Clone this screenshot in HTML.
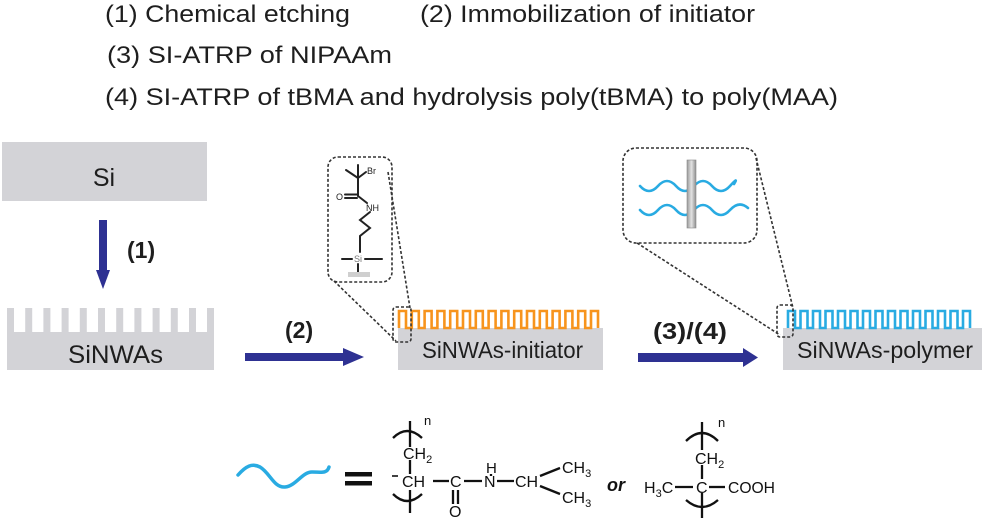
<!DOCTYPE html>
<html>
<head>
<meta charset="utf-8">
<style>
  html,body{margin:0;padding:0;background:#fff;}
  svg{display:block;}
  text{font-family:"Liberation Sans",Arial,sans-serif;}
</style>
</head>
<body>
<svg width="982" height="521" viewBox="0 0 982 521" xmlns="http://www.w3.org/2000/svg">
  <defs>
    <linearGradient id="rod" x1="0" x2="1" y1="0" y2="0">
      <stop offset="0" stop-color="#9a9a9a"/>
      <stop offset="0.5" stop-color="#e2e2e2"/>
      <stop offset="1" stop-color="#8e8e8e"/>
    </linearGradient>
  </defs>

  <!-- Top legend text -->
  <g fill="#1e1e1e" font-size="24">
    <text x="105" y="22" textLength="245" lengthAdjust="spacingAndGlyphs">(1) Chemical etching</text>
    <text x="420" y="22" textLength="335" lengthAdjust="spacingAndGlyphs">(2) Immobilization of initiator</text>
    <text x="107" y="63" textLength="285" lengthAdjust="spacingAndGlyphs">(3) SI-ATRP of NIPAAm</text>
    <text x="105" y="105" textLength="733" lengthAdjust="spacingAndGlyphs">(4) SI-ATRP of tBMA and hydrolysis poly(tBMA) to poly(MAA)</text>
  </g>

  <!-- Si block -->
  <rect x="2" y="142" width="205" height="59" fill="#d3d3d7"/>
  <text x="104" y="186" font-size="25" fill="#1e1e1e" text-anchor="middle">Si</text>

  <!-- Arrow (1) -->
  <rect x="99" y="220" width="8" height="52" fill="#2e3192"/>
  <polygon points="96,270 110,270 103,289" fill="#2e3192"/>
  <text x="127" y="258" font-size="23" font-weight="bold" fill="#1e1e1e">(1)</text>

  <!-- SiNWAs comb -->
  <g fill="#d3d3d7">
    <rect x="7" y="332" width="207" height="38"/>
    <rect x="7" y="308" width="7" height="25"/>
    <rect x="25.2" y="308" width="7" height="25"/>
    <rect x="43.4" y="308" width="7" height="25"/>
    <rect x="61.6" y="308" width="7" height="25"/>
    <rect x="79.8" y="308" width="7" height="25"/>
    <rect x="98" y="308" width="7" height="25"/>
    <rect x="116.2" y="308" width="7" height="25"/>
    <rect x="134.4" y="308" width="7" height="25"/>
    <rect x="152.6" y="308" width="7" height="25"/>
    <rect x="170.8" y="308" width="7" height="25"/>
    <rect x="189" y="308" width="7" height="25"/>
    <rect x="207" y="308" width="7" height="25"/>
  </g>
  <text x="68" y="363" font-size="25" fill="#1e1e1e" textLength="95" lengthAdjust="spacingAndGlyphs">SiNWAs</text>

  <!-- Arrow (2) -->
  <rect x="245" y="353" width="100" height="8" fill="#2e3192"/>
  <polygon points="343,348 343,366 364,357" fill="#2e3192"/>
  <text x="285" y="338" font-size="23" font-weight="bold" fill="#1e1e1e">(2)</text>

  <!-- SiNWAs-initiator -->
  <rect x="398" y="328" width="205" height="42" fill="#d3d3d7"/>
  <path d="M399,328 v-17 h7 v17 h5.8 v-17 h7 v17 h5.8 v-17 h7 v17 h5.8 v-17 h7 v17 h5.8 v-17 h7 v17 h5.8 v-17 h7 v17 h5.8 v-17 h7 v17 h5.8 v-17 h7 v17 h5.8 v-17 h7 v17 h5.8 v-17 h7 v17 h5.8 v-17 h7 v17 h5.8 v-17 h7 v17 h5.8 v-17 h7 v17 h5.8 v-17 h7 v17 h5.8 v-17 h7 v17 h5.8 v-17 h7 v17" fill="none" stroke="#f7941d" stroke-width="2.6"/>
  <text x="422" y="358" font-size="23" fill="#1e1e1e" textLength="161" lengthAdjust="spacingAndGlyphs">SiNWAs-initiator</text>

  <!-- Inset 1 (initiator molecule) -->
  <g fill="none" stroke="#333" stroke-width="1.6" stroke-dasharray="3 2">
    <rect x="328" y="157" width="64" height="125" rx="10"/>
    <rect x="393" y="307" width="18" height="35" rx="3"/>
    <line x1="388" y1="172" x2="410" y2="308"/>
    <line x1="334" y1="281" x2="396" y2="341"/>
  </g>
  <g stroke="#222" stroke-width="2" fill="none" stroke-linecap="round">
    <line x1="358" y1="178" x2="358" y2="165"/>
    <line x1="358" y1="178" x2="346" y2="170"/>
    <line x1="358" y1="178" x2="366" y2="172"/>
    <line x1="358" y1="178" x2="358" y2="196"/>
    <line x1="345" y1="194.5" x2="357" y2="194.5"/>
    <line x1="345" y1="198" x2="357" y2="198"/>
    <line x1="358" y1="196" x2="367" y2="203"/>
    <polyline points="370,212 360,220 370,228 360,236 360,252"/>
    <line x1="342" y1="259" x2="352" y2="259"/>
    <line x1="365" y1="259" x2="382" y2="259"/>
    <line x1="358" y1="264" x2="358" y2="272"/>
  </g>
  <g font-size="9" fill="#222">
    <text x="367" y="174">Br</text>
    <text x="336" y="200">O</text>
    <text x="366" y="211">NH</text>
    <text x="358" y="262" text-anchor="middle" fill="#777">Si</text>
  </g>
  <rect x="348" y="272" width="22" height="5" fill="#cfcfcf"/>

  <!-- Arrow (3)/(4) -->
  <rect x="638" y="353" width="107" height="9" fill="#2e3192"/>
  <polygon points="743,348 743,367 758,357.5" fill="#2e3192"/>
  <text x="653" y="339" font-size="23" font-weight="bold" fill="#1e1e1e" textLength="74" lengthAdjust="spacingAndGlyphs">(3)/(4)</text>

  <!-- SiNWAs-polymer -->
  <rect x="783" y="328" width="199" height="42" fill="#d3d3d7"/>
  <path d="M788,328 v-17 h7 v17 h5.5 v-17 h7 v17 h5.5 v-17 h7 v17 h5.5 v-17 h7 v17 h5.5 v-17 h7 v17 h5.5 v-17 h7 v17 h5.5 v-17 h7 v17 h5.5 v-17 h7 v17 h5.5 v-17 h7 v17 h5.5 v-17 h7 v17 h5.5 v-17 h7 v17 h5.5 v-17 h7 v17 h5.5 v-17 h7 v17 h5.5 v-17 h7 v17 h5.5 v-17 h7 v17" fill="none" stroke="#29abe2" stroke-width="2.6"/>
  <text x="797" y="358" font-size="23" fill="#1e1e1e" textLength="176" lengthAdjust="spacingAndGlyphs">SiNWAs-polymer</text>

  <!-- Inset 2 (polymer brush) -->
  <g fill="none" stroke="#333" stroke-width="1.6" stroke-dasharray="3 2">
    <rect x="623" y="148" width="134" height="95" rx="13"/>
    <rect x="777" y="305" width="16" height="32" rx="3"/>
    <line x1="756" y1="158" x2="793" y2="308"/>
    <line x1="637" y1="243" x2="780" y2="335"/>
  </g>
  <g fill="none" stroke="#29abe2" stroke-width="2.6" stroke-linecap="round">
    <path d="M640,186 q9,10 18,0 t18,0 t18,0 t18,0 t18,0 t4,-2"/>
    <path d="M640,210 q9,10 18,0 t18,0 t18,0 t18,0 t18,0 t18,-2"/>
  </g>
  <rect x="687" y="160" width="9" height="68" fill="url(#rod)" stroke="#888" stroke-width="0.6"/>

  <!-- Bottom: wave = structures -->
  <path d="M238,475 C246,466 252,463 260,467 C270,473 274,488 285,487 C296,486 302,472 312,472 C321,472 327,474 329,467" fill="none" stroke="#29abe2" stroke-width="3.5" stroke-linecap="round"/>
  <rect x="345" y="472" width="27" height="4.5" fill="#111"/>
  <rect x="345" y="481" width="27" height="4.5" fill="#111"/>

  <!-- Structure 1: PNIPAAm -->
  <g stroke="#111" stroke-width="2.3" fill="none">
    <path d="M393,438 Q407,424 422,438"/>
    <line x1="410" y1="421" x2="410" y2="447"/>
    <line x1="410" y1="460" x2="410" y2="474"/>
    <path d="M393,494 Q407,508 422,494"/>
    <line x1="410" y1="490" x2="410" y2="513"/>
    <line x1="433" y1="481" x2="449" y2="481"/>
    <line x1="464" y1="481" x2="482" y2="481"/>
    <line x1="497" y1="481" x2="514" y2="481"/>
    <line x1="453" y1="490" x2="453" y2="504"/>
    <line x1="458" y1="490" x2="458" y2="504"/>
    <line x1="491" y1="474" x2="491" y2="476"/>
    <line x1="540" y1="476" x2="560" y2="468"/>
    <line x1="540" y1="486" x2="560" y2="494"/>
    <line x1="392" y1="476" x2="398" y2="476" stroke-width="1.6"/>
  </g>
  <g fill="#111" font-size="16">
    <text x="424" y="425" font-size="13">n</text>
    <text x="403" y="459">CH<tspan font-size="11" dy="4">2</tspan></text>
    <text x="402" y="487">CH</text>
    <text x="450" y="487">C</text>
    <text x="484" y="487">N</text>
    <text x="486" y="473" font-size="15">H</text>
    <text x="515" y="487">CH</text>
    <text x="562" y="473">CH<tspan font-size="11" dy="4">3</tspan></text>
    <text x="562" y="503">CH<tspan font-size="11" dy="4">3</tspan></text>
    <text x="449" y="517">O</text>
  </g>

  <!-- Structure 2: PMAA -->
  <text x="607" y="491" font-size="18" font-weight="bold" font-style="italic" fill="#111">or</text>
  <g stroke="#111" stroke-width="2.3" fill="none">
    <path d="M686,441 Q702,425 718,441"/>
    <line x1="702" y1="422" x2="702" y2="450"/>
    <line x1="702" y1="465" x2="702" y2="479"/>
    <line x1="675" y1="487" x2="693" y2="487"/>
    <line x1="709" y1="487" x2="725" y2="487"/>
    <path d="M686,500 Q702,514 718,500"/>
    <line x1="702" y1="493" x2="702" y2="518"/>
  </g>
  <g fill="#111" font-size="16">
    <text x="718" y="427" font-size="13">n</text>
    <text x="695" y="464">CH<tspan font-size="11" dy="4">2</tspan></text>
    <text x="644" y="493">H<tspan font-size="11" dy="4">3</tspan><tspan dy="-4">C</tspan></text>
    <text x="696" y="493">C</text>
    <text x="728" y="493" textLength="47" lengthAdjust="spacingAndGlyphs">COOH</text>
  </g>
</svg>
</body>
</html>
